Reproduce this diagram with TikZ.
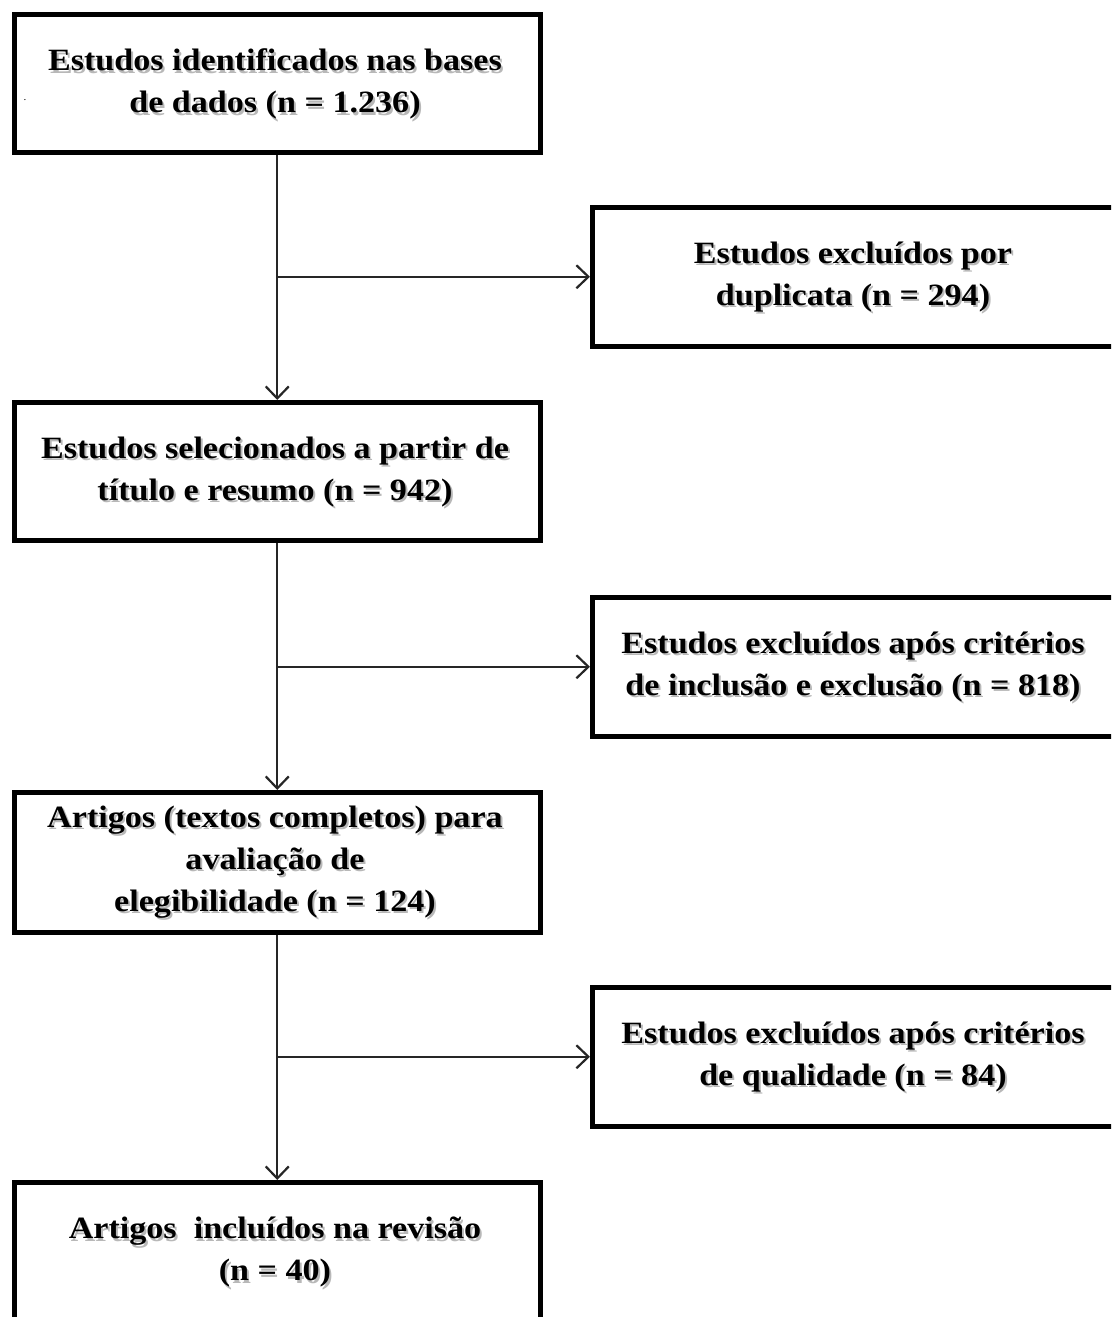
\documentclass[tikz,border=0pt]{standalone}
\usepackage{fontspec}
\setmainfont{Liberation Serif}[FakeStretch=1.1]
\usetikzlibrary{arrows.meta,calc}
\newcommand\btext[3]{%
  \node[shd] (#1s) at ($(#2)+(2,2.5)$) {#3};
  \node[txt] (#1) at (#2) {#3};}
\begin{document}
\begin{tikzpicture}[x=1pt,y=-1pt,
  box/.style={draw=black,line width=4.5pt,fill=white,minimum width=526pt,
    minimum height=138pt,inner sep=0pt,anchor=north west},
  rbox/.style={box,minimum width=540pt,minimum height=139pt},
  txt/.style={font=\bfseries\fontsize{31}{42}\selectfont,align=center,inner sep=0pt},
  shd/.style={txt,text=black!28},
  conn/.style={line width=2.2pt,draw=black!85},
  arr/.style={conn,-{Straight Barb[length=12pt,width=23pt,line width=2.2pt]}}]
\useasboundingbox (0,0) rectangle (1111,1317);
\clip (0,0) rectangle (1111,1317);
% boxes
\node[box] (b1) at (12,12) {};
\node[rbox] (b2) at (590,205) {};
\node[box] (b3) at (12,400) {};
\node[rbox] (b4) at (590,595) {};
\node[box,minimum height=140pt] (b5) at (12,790) {};
\node[rbox] (b6) at (590,985) {};
\node[box,minimum height=144pt] (b7) at (12,1180) {};
% texts
\btext{t1}{275,84}{Estudos identificados nas bases\\de dados (n = 1.236)}
\btext{t2}{853,277}{Estudos exclu\'idos por\\duplicata (n = 294)}
\btext{t3}{275,472}{Estudos selecionados a partir de\\t\'itulo e resumo (n = 942)}
\btext{t4}{853,667}{Estudos exclu\'idos ap\'os crit\'erios\\de inclus\~ao e exclus\~ao (n = 818)}
\btext{t5}{275,862}{Artigos (textos completos) para\\avalia\c{c}\~ao de\\ elegibilidade (n = 124)}
\btext{t6}{853,1057}{Estudos exclu\'idos ap\'os crit\'erios\\de qualidade (n = 84)}
\btext{t7}{275,1252}{Artigos\ \ inclu\'idos na revis\~ao\\(n = 40)}
\node[inner sep=0pt,font=\fontsize{10}{10}\selectfont] (dot) at (25,100) {.};
% connectors
\draw[arr] (b1.south) -- (b3.north);
\draw[arr] (b3.south) -- (b5.north);
\draw[arr] (b5.south) -- (b7.north);
\draw[arr] (b1.south |- b2.west) -- (b2.west);
\draw[arr] (b3.south |- b4.west) -- (b4.west);
\draw[arr] (b5.south |- b6.west) -- (b6.west);
\end{tikzpicture}
\end{document}
